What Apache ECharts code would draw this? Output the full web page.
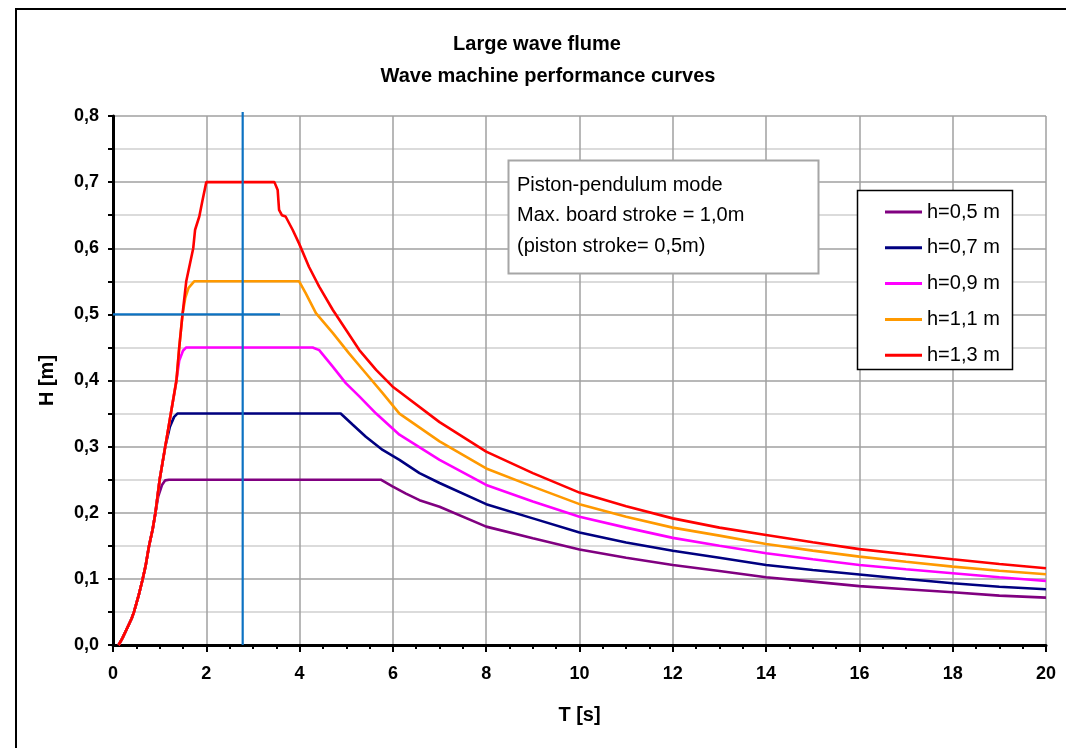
<!DOCTYPE html>
<html>
<head>
<meta charset="utf-8">
<script src="https://cdn.jsdelivr.net/npm/echarts@6/dist/echarts.min.js"></script>
<style>
html,body{margin:0;padding:0;background:#fff;}
#chart{width:1066px;height:748px;}
</style>
</head>
<body>
<div id="chart"></div>
<script>
// ---- Data (T [s], H [m]) ----
const seriesNames = ['h=0,5 m', 'h=0,7 m', 'h=0,9 m', 'h=1,1 m', 'h=1,3 m'];
const seriesColors = ['#800080', '#000080', '#ff00ff', '#ff9900', '#ff0000'];

const h05 = [[0.12,0],[0.2,0.01],[0.3,0.025],[0.4,0.04],[0.45,0.05],[0.55,0.075],[0.63,0.098],[0.7,0.12],[0.77,0.149],[0.85,0.175],[0.91,0.2],[0.97,0.225],[1.05,0.242],[1.12,0.249],[1.2,0.25],[5.74,0.25],[5.99,0.24],[6.28,0.229],[6.57,0.219],[7,0.209],[8,0.179],[9,0.1614],[10,0.1445],[11,0.132],[12,0.121],[13,0.112],[14,0.1024],[15,0.0958],[16,0.089],[17,0.0843],[18,0.0797],[19,0.0746],[20,0.0716]];
const h07 = [[0.12,0],[0.2,0.01],[0.3,0.025],[0.4,0.04],[0.45,0.05],[0.55,0.075],[0.63,0.098],[0.7,0.12],[0.77,0.149],[0.85,0.175],[0.91,0.2],[1.0,0.25],[1.12,0.3],[1.22,0.33],[1.31,0.345],[1.38,0.35],[4.88,0.35],[5.14,0.333],[5.42,0.315],[5.78,0.295],[6.14,0.28],[6.57,0.26],[7,0.245],[8,0.213],[9,0.1915],[10,0.17],[11,0.155],[12,0.1425],[13,0.132],[14,0.121],[15,0.1135],[16,0.1066],[17,0.0998],[18,0.0933],[19,0.0882],[20,0.0843]];
const h09 = [[0.12,0],[0.2,0.01],[0.3,0.025],[0.4,0.04],[0.45,0.05],[0.55,0.075],[0.63,0.098],[0.7,0.12],[0.77,0.149],[0.85,0.175],[0.91,0.2],[1.0,0.25],[1.12,0.3],[1.24,0.35],[1.36,0.4],[1.42,0.43],[1.5,0.445],[1.57,0.45],[4.28,0.45],[4.42,0.446],[4.71,0.421],[4.99,0.396],[5.28,0.376],[5.64,0.35],[6.14,0.318],[7,0.28],[8,0.242],[9,0.217],[10,0.194],[11,0.1775],[12,0.162],[13,0.15],[14,0.1387],[15,0.1296],[16,0.121],[17,0.1145],[18,0.1084],[19,0.1024],[20,0.0968]];
const h11 = [[0.12,0],[0.2,0.01],[0.3,0.025],[0.4,0.04],[0.45,0.05],[0.55,0.075],[0.63,0.098],[0.7,0.12],[0.77,0.149],[0.85,0.175],[0.91,0.2],[1.0,0.25],[1.12,0.3],[1.24,0.35],[1.36,0.4],[1.42,0.45],[1.49,0.5],[1.55,0.525],[1.62,0.54],[1.74,0.55],[3.99,0.55],[4.13,0.532],[4.35,0.502],[4.71,0.472],[5.06,0.441],[5.42,0.411],[5.78,0.381],[6.14,0.35],[7,0.308],[8,0.267],[9,0.2395],[10,0.213],[11,0.194],[12,0.1775],[13,0.1654],[14,0.1528],[15,0.1427],[16,0.1336],[17,0.126],[18,0.1185],[19,0.1124],[20,0.107]];
const h13 = [[0.12,0],[0.2,0.01],[0.3,0.025],[0.4,0.04],[0.45,0.05],[0.55,0.075],[0.63,0.098],[0.7,0.12],[0.77,0.149],[0.85,0.175],[0.91,0.2],[1.0,0.25],[1.12,0.3],[1.24,0.35],[1.36,0.4],[1.42,0.45],[1.49,0.5],[1.57,0.55],[1.72,0.6],[1.76,0.628],[1.85,0.648],[1.92,0.673],[2.0,0.7],[3.46,0.7],[3.53,0.688],[3.56,0.658],[3.62,0.65],[3.7,0.648],[3.85,0.628],[3.99,0.607],[4.2,0.572],[4.42,0.542],[4.71,0.507],[4.99,0.477],[5.28,0.446],[5.64,0.416],[5.99,0.391],[6.14,0.383],[7,0.337],[8,0.2925],[9,0.26],[10,0.2305],[11,0.21],[12,0.1915],[13,0.1775],[14,0.1664],[15,0.1553],[16,0.145],[17,0.1372],[18,0.1296],[19,0.1225],[20,0.116]];
const seriesData = [h05, h07, h09, h11, h13];

// reference (blue) lines
const refVertical = [[2.78,0],[2.78,0.806]];
const refHorizontal = [[0,0.5],[3.58,0.5]];

const titleLines = ['Large wave flume', 'Wave machine performance curves'];
const noteLines = ['Piston-pendulum mode', 'Max. board stroke = 1,0m', '(piston stroke= 0,5m)'];
const xName = 'T [s]';
const yName = 'H [m]';

const FONT = '"Liberation Sans", Arial, sans-serif';
const chart = echarts.init(document.getElementById('chart'), null, {renderer: 'canvas'});

const series = seriesData.map((d, i) => ({
  name: seriesNames[i],
  type: 'line',
  data: d,
  showSymbol: false,
  symbol: 'none',
  lineStyle: {color: seriesColors[i], width: 2.6},
  itemStyle: {color: seriesColors[i]},
  z: 2 + i
}));
series.push({
  name: 'refV', type: 'line', data: refVertical, showSymbol: false, symbol: 'none', clip: false,
  lineStyle: {color: '#0c72c2', width: 2.2}, z: 10, silent: true
});
series.push({
  name: 'refH', type: 'line', data: refHorizontal, showSymbol: false, symbol: 'none',
  lineStyle: {color: '#0c72c2', width: 2.2}, z: 10, silent: true
});

const option = {
  animation: false,
  backgroundColor: '#ffffff',
  grid: {left: 113, right: 20, top: 116, bottom: 103, containLabel: false},
  xAxis: {
    type: 'value', min: 0, max: 20, interval: 2,
    name: xName, nameLocation: 'middle', nameGap: 60,
    nameTextStyle: {fontFamily: FONT, fontWeight: 'bold', fontSize: 20, color: '#000'},
    axisLine: {show: true, onZero: false, lineStyle: {color: '#000', width: 3}},
    axisTick: {show: true, length: 7, lineStyle: {color: '#000', width: 2}},
    minorTick: {show: true, splitNumber: 4, length: 4, lineStyle: {color: '#000', width: 2}},
    axisLabel: {fontFamily: FONT, fontWeight: 'bold', fontSize: 18, color: '#000', margin: 20},
    splitLine: {show: true, lineStyle: {color: '#a0a0a0', width: 1.5}}
  },
  yAxis: {
    type: 'value', min: 0, max: 0.8, interval: 0.1,
    name: yName, nameLocation: 'middle', nameGap: 56, nameRotate: 90,
    nameTextStyle: {fontFamily: FONT, fontWeight: 'bold', fontSize: 20, color: '#000'},
    axisLine: {show: true, onZero: false, lineStyle: {color: '#000', width: 3}},
    axisTick: {show: true, length: 5, lineStyle: {color: '#000', width: 2}},
    minorTick: {show: true, splitNumber: 2, length: 5, lineStyle: {color: '#000', width: 2}},
    minorSplitLine: {show: true, lineStyle: {color: '#d0d0d0', width: 1.5}},
    axisLabel: {fontFamily: FONT, fontWeight: 'bold', fontSize: 18, color: '#000', margin: 14,
      formatter: v => v.toFixed(1).replace('.', ',')},
    splitLine: {show: true, lineStyle: {color: '#a0a0a0', width: 1.5}}
  },
  legend: {
    data: seriesNames,
    orient: 'vertical',
    left: 885, top: 202,
    itemWidth: 37, itemHeight: 3, itemGap: 15.8,
    icon: 'rect',
    padding: 0,
    textStyle: {fontFamily: FONT, fontSize: 20, color: '#000', lineHeight: 20},
    z: 20
  },
  graphic: [
    {type: 'polyline', z: 50, silent: true, shape: {points: [[16, 748], [16, 9], [1066, 9]]},
     style: {stroke: '#000', lineWidth: 2, fill: null}},
    {type: 'text', z: 50, x: 537, y: 44, style: {text: titleLines[0], fontFamily: FONT, fontWeight: 'bold', fontSize: 20, fill: '#000', align: 'center', verticalAlign: 'middle'}},
    {type: 'text', z: 50, x: 548, y: 76, style: {text: titleLines[1], fontFamily: FONT, fontWeight: 'bold', fontSize: 20, fill: '#000', align: 'center', verticalAlign: 'middle'}},
    {type: 'rect', z: 15, silent: true, shape: {x: 508.5, y: 160.5, width: 310, height: 113},
     style: {fill: '#fff', stroke: '#a6a6a6', lineWidth: 2}},
    {type: 'text', z: 16, x: 517, y: 185, style: {text: noteLines[0], fontFamily: FONT, fontSize: 20, fill: '#000', align: 'left', verticalAlign: 'middle'}},
    {type: 'text', z: 16, x: 517, y: 215.5, style: {text: noteLines[1], fontFamily: FONT, fontSize: 20, fill: '#000', align: 'left', verticalAlign: 'middle'}},
    {type: 'text', z: 16, x: 517, y: 246, style: {text: noteLines[2], fontFamily: FONT, fontSize: 20, fill: '#000', align: 'left', verticalAlign: 'middle'}},
    {type: 'rect', z: 15, silent: true, shape: {x: 857.5, y: 190.5, width: 155, height: 179},
     style: {fill: '#fff', stroke: '#000', lineWidth: 1.5}}
  ],
  series: series
};
chart.setOption(option);
</script>
</body>
</html>
